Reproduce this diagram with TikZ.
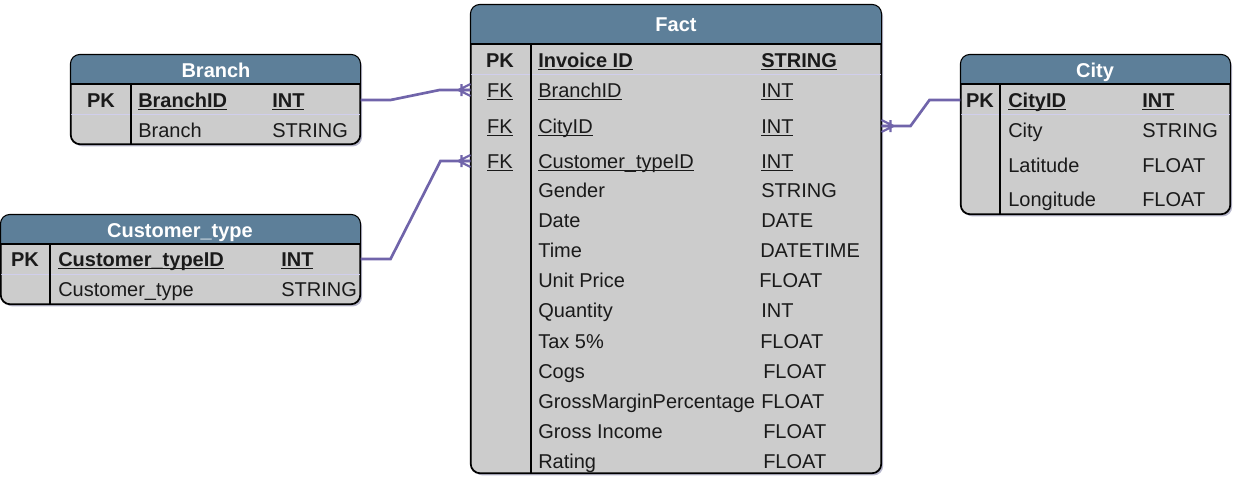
\documentclass[tikz,border=0pt]{standalone}
\usepackage{fontspec}
\setmainfont{Liberation Sans}
\usetikzlibrary{fit,calc,shadows}
\definecolor{hdr}{HTML}{5D7F99}
\definecolor{bodyc}{HTML}{CCCCCC}
\definecolor{linkc}{RGB}{112,100,170}
\definecolor{sepc}{RGB}{208,206,236}
\definecolor{txt}{HTML}{1A1A1A}
\newcommand\ulx[1]{\sbox0{#1}\rlap{\rule[-2.3pt]{\wd0}{1.1pt}}\usebox0}
\tikzset{
  tbl/.style={draw=black, line width=0.8pt, fill=bodyc, rounded corners=7pt, inner sep=0pt,
    drop shadow={shadow xshift=1.6pt, shadow yshift=-1.8pt, fill=blue!30!black, opacity=0.28}},
  cell/.style={anchor=west, inner sep=0pt, text height=10.7pt, text depth=0pt, text=txt,
    font=\fontsize{15}{18}\selectfont},
  cellc/.style={cell, anchor=center},
  head/.style={inner sep=0pt, text height=10.7pt, text depth=0pt, text=white,
    font=\bfseries\fontsize{15}{18}\selectfont},
  link/.style={draw=linkc, line width=2pt},
  crowfoot/.pic={\draw[draw=linkc, line width=1.6pt] (-12,0) -- (0,0) (-12,0) -- (0,6) (-12,0) -- (0,-6) (-9,-6) -- (-9,6);}
}
% name, x1, y1, x2, y2, header bottom, divider x, separator y
\newcommand\ERtable[8]{%
  \node[tbl, fit={(#2,#3) (#4,#5)}] (#1) {};
  \begin{scope}
    \clip[rounded corners=7pt] (#1.north west) rectangle (#1.south east);
    \fill[hdr] (#1.north west) rectangle (#4,#6);
  \end{scope}
  \draw[sepc, line width=0.6pt] (#2,#8) -- (#4,#8);
  \draw[line width=0.8pt] (#2,#6) -- (#4,#6) (#7,#6) -- (#7,#5);
  \draw[line width=0.8pt, rounded corners=7pt] (#1.north west) rectangle (#1.south east);
}
\begin{document}
\begin{tikzpicture}[x=0.75pt, y=-0.75pt]
\useasboundingbox (0,0) rectangle (1243,494);

% ---------- Fact ----------
\ERtable{fact}{471}{5}{881}{473}{44}{531}{74}
\node[head] (factH) at (676,24) {Fact};
\node[cellc, font=\bfseries\fontsize{15}{18}\selectfont] (fPK) at (500,60) {PK};
\node[cell, font=\bfseries\fontsize{15}{18}\selectfont] (fInv) at (538,60) {\ulx{Invoice ID}};
\node[cell, font=\bfseries\fontsize{15}{18}\selectfont] (fInvT) at (761,60) {\ulx{STRING}};
\node[cellc] (fFK1) at (500,90) {\ulx{FK}};
\node[cell] (fBr) at (538,90) {\ulx{BranchID}};
\node[cell] (fBrT) at (761,90) {\ulx{INT}};
\node[cellc] (fFK2) at (500,126) {\ulx{FK}};
\node[cell] (fCi) at (538,126) {\ulx{CityID}};
\node[cell] (fCiT) at (761,126) {\ulx{INT}};
\node[cellc] (fFK3) at (500,161) {\ulx{FK}};
\node[cell] (fCu) at (538,161) {\ulx{Customer\_typeID}};
\node[cell] (fCuT) at (761,161) {\ulx{INT}};
\node[cell] (fGe) at (538,190) {Gender};
\node[cell] (fGeT) at (761,190) {STRING};
\node[cell] (fDa) at (538,220) {Date};
\node[cell] (fDaT) at (761,220) {DATE};
\node[cell] (fTi) at (538,250) {Time};
\node[cell] (fTiT) at (760,250) {DATETIME};
\node[cell] (fUp) at (538,280) {Unit Price};
\node[cell] (fUpT) at (759,280) {FLOAT};
\node[cell] (fQu) at (538,310) {Quantity};
\node[cell] (fQuT) at (761,310) {INT};
\node[cell] (fTa) at (538,341) {Tax 5\%};
\node[cell] (fTaT) at (760,341) {FLOAT};
\node[cell] (fCo) at (538,371) {Cogs};
\node[cell] (fCoT) at (763,371) {FLOAT};
\node[cell] (fGm) at (538,401) {GrossMarginPercentage};
\node[cell] (fGmT) at (761,401) {FLOAT};
\node[cell] (fGi) at (538,431) {Gross Income};
\node[cell] (fGiT) at (763,431) {FLOAT};
\node[cell] (fRa) at (538,461) {Rating};
\node[cell] (fRaT) at (763,461) {FLOAT};

% ---------- Branch ----------
\ERtable{branch}{71}{55}{360}{144}{84}{131}{114}
\node[head] (branchH) at (216,70) {Branch};
\node[cellc, font=\bfseries\fontsize{15}{18}\selectfont] (bPK) at (101,100) {PK};
\node[cell, font=\bfseries\fontsize{15}{18}\selectfont] (bId) at (138,100) {\ulx{BranchID}};
\node[cell, font=\bfseries\fontsize{15}{18}\selectfont] (bIdT) at (272,100) {\ulx{INT}};
\node[cell] (bNm) at (138,130) {Branch};
\node[cell] (bNmT) at (272,130) {STRING};

% ---------- Customer_type ----------
\ERtable{ctype}{1}{215}{360}{304}{244}{50}{274}
\node[head] (ctypeH) at (180,230) {Customer\_type};
\node[cellc, font=\bfseries\fontsize{15}{18}\selectfont] (cPK) at (25,259) {PK};
\node[cell, font=\bfseries\fontsize{15}{18}\selectfont] (cId) at (58,259) {\ulx{Customer\_typeID}};
\node[cell, font=\bfseries\fontsize{15}{18}\selectfont] (cIdT) at (281,259) {\ulx{INT}};
\node[cell] (cNm) at (58,289) {Customer\_type};
\node[cell] (cNmT) at (281,289) {STRING};

% ---------- City ----------
\ERtable{city}{961}{55}{1230}{214}{84}{1000}{114}
\node[head] (cityH) at (1095,70) {City};
\node[cellc, font=\bfseries\fontsize{15}{18}\selectfont] (yPK) at (980,100) {PK};
\node[cell, font=\bfseries\fontsize{15}{18}\selectfont] (yId) at (1008,100) {\ulx{CityID}};
\node[cell, font=\bfseries\fontsize{15}{18}\selectfont] (yIdT) at (1142,100) {\ulx{INT}};
\node[cell] (yCi) at (1008,130) {City};
\node[cell] (yCiT) at (1142,130) {STRING};
\node[cell] (yLa) at (1008,165) {Latitude};
\node[cell] (yLaT) at (1142,165) {FLOAT};
\node[cell] (yLo) at (1008,199) {Longitude};
\node[cell] (yLoT) at (1142,199) {FLOAT};

% ---------- Connectors ----------
\draw[link] (bPK -| branch.east) -- ++(30,0) -- ($(fFK1 -| fact.west)+(-31,0)$) -- (fFK1 -| fact.west);
\pic at (fFK1 -| fact.west) {crowfoot};
\draw[link] (cPK -| ctype.east) -- ++(30,0) -- ($(fFK3 -| fact.west)+(-30,0)$) -- (fFK3 -| fact.west);
\pic at (fFK3 -| fact.west) {crowfoot};
\draw[link] (yPK -| city.west) -- ++(-31,0) -- ($(fFK2 -| fact.east)+(29,0)$) -- (fFK2 -| fact.east);
\pic[xscale=-1] at (fFK2 -| fact.east) {crowfoot};
\end{tikzpicture}
\end{document}
